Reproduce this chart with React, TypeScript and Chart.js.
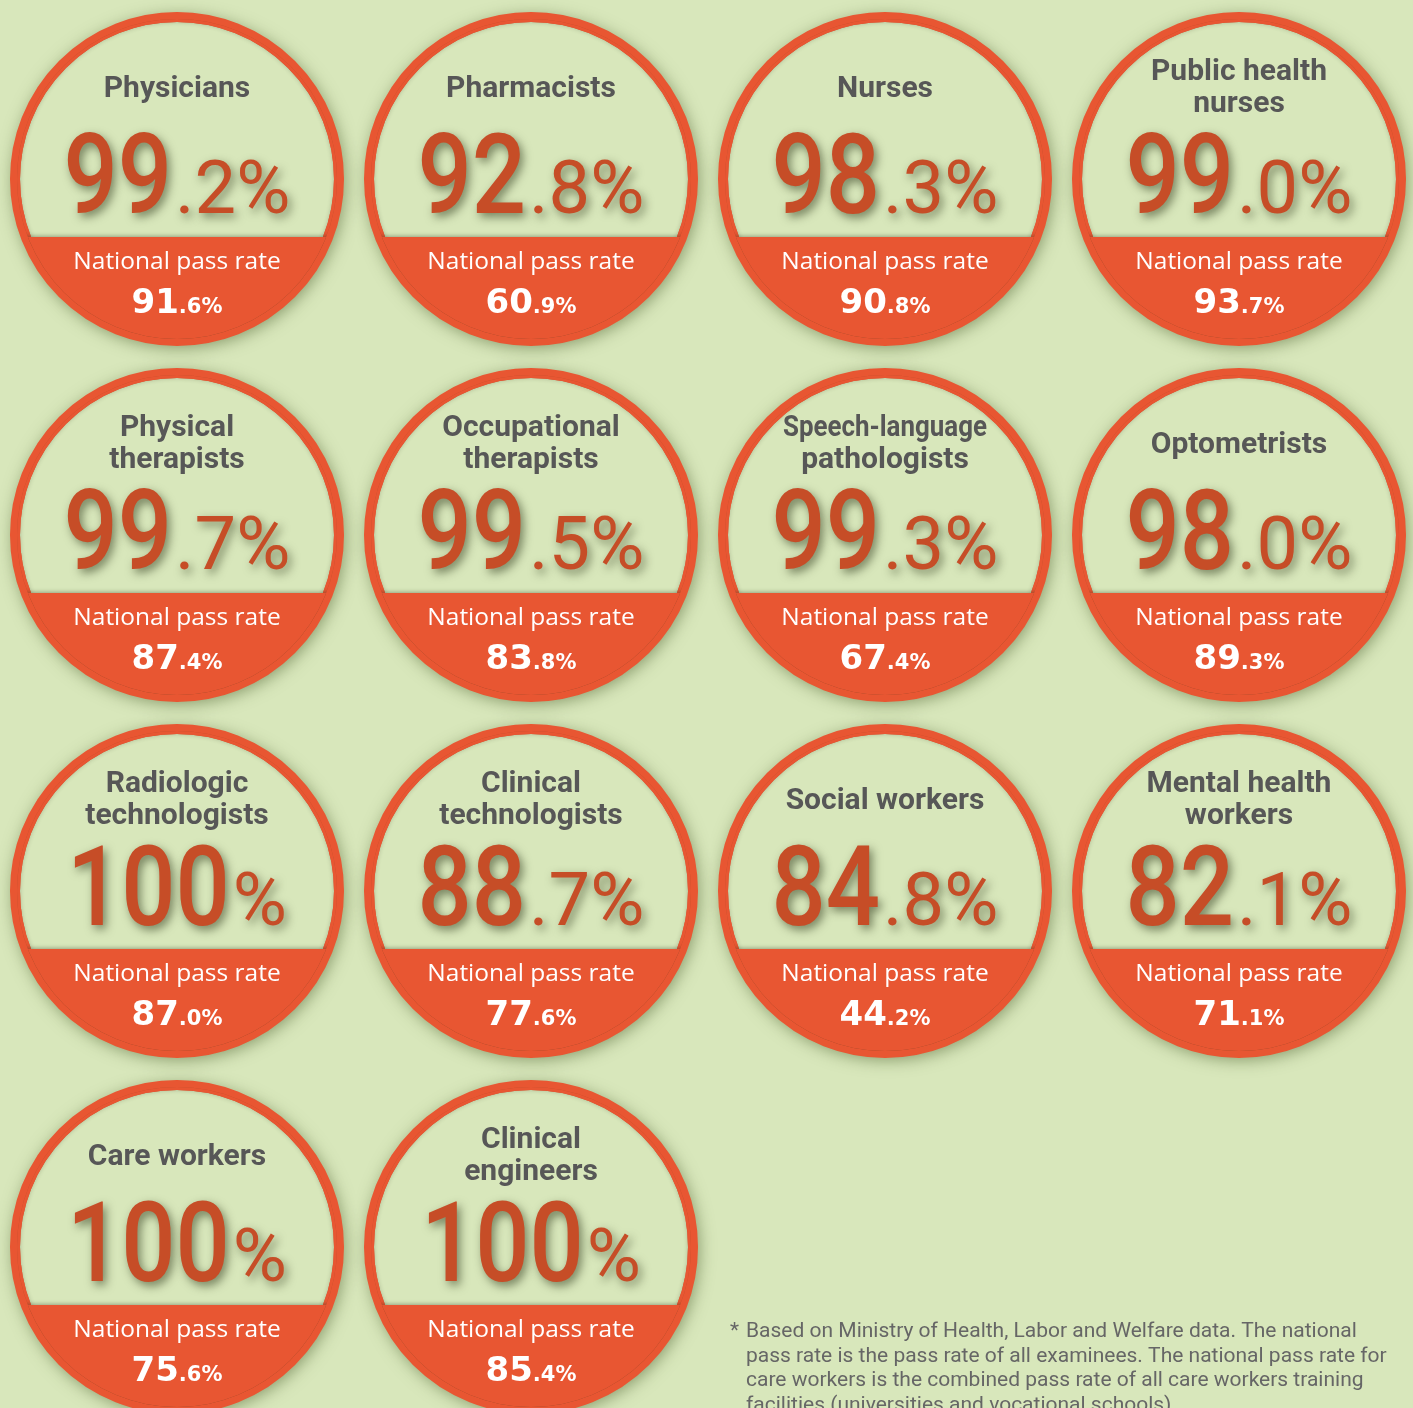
import React, { useEffect, useRef } from "react";
import { Chart, registerables } from "chart.js";

Chart.register(...registerables);

// ---------- data ----------
const professions = [
  "Physicians",
  "Pharmacists",
  "Nurses",
  "Public health\nnurses",
  "Physical\ntherapists",
  "Occupational\ntherapists",
  "Speech-language\npathologists",
  "Optometrists",
  "Radiologic\ntechnologists",
  "Clinical\ntechnologists",
  "Social workers",
  "Mental health\nworkers",
  "Care workers",
  "Clinical\nengineers",
];
const schoolPassRates = [99.2, 92.8, 98.3, 99.0, 99.7, 99.5, 99.3, 98.0, 100, 88.7, 84.8, 82.1, 100, 100];
const nationalPassRates = [91.6, 60.9, 90.8, 93.7, 87.4, 83.8, 67.4, 89.3, 87.0, 77.6, 44.2, 71.1, 75.6, 85.4];
const nationalLabel = "National pass rate";
const footnoteLines = [
  "Based on Ministry of Health, Labor and Welfare data. The national",
  "pass rate is the pass rate of all examinees. The national pass rate for",
  "care workers is the combined pass rate of all care workers training",
  "facilities (universities and vocational schools).",
];

// ---------- layout / style ----------
const W = 1413;
const H = 1408;
const COLS = 4;
const COL_STEP = 354;
const ROW_STEP = 356;
const FIRST_X = 177;
const FIRST_Y = 179;
const BG = "#d8e7bb";
const RED = "#e85632";
const DIGIT = "#c64d27";
const TITLE = "#575757";
const R_POINT = 162;
const R_BORDER = 10;
const R_IN = R_POINT - R_BORDER / 2;
const R_OUT = R_POINT + R_BORDER / 2;

function splitRate(v: number): [string, string] {
  if (v === 100) return ["100", "%"];
  const [a, b] = v.toFixed(1).split(".");
  return [a, "." + b + "%"];
}

function drawSplit(
  ctx: CanvasRenderingContext2D,
  parts: [string, string],
  cx: number,
  y: number,
  bigFont: string,
  smallFont: string,
  bigScale: number,
  gap: number
) {
  ctx.font = bigFont;
  const wb = ctx.measureText(parts[0]).width * bigScale;
  ctx.font = smallFont;
  const ws = ctx.measureText(parts[1]).width;
  const x0 = cx - (wb + gap + ws) / 2;
  ctx.textAlign = "left";
  ctx.textBaseline = "alphabetic";
  ctx.save();
  ctx.translate(x0, y);
  ctx.scale(bigScale, 1);
  ctx.font = bigFont;
  ctx.fillText(parts[0], 0, 0);
  ctx.restore();
  ctx.font = smallFont;
  ctx.fillText(parts[1], x0 + wb + gap, y);
}

const decorPlugin = {
  id: "decor",
  beforeDatasetsDraw(chart: any) {
    const ctx: CanvasRenderingContext2D = chart.ctx;
    const meta = chart.getDatasetMeta(0);
    meta.data.forEach((pt: any) => {
      ctx.save();
      ctx.shadowColor = "rgba(70,90,40,0.55)";
      ctx.shadowBlur = 16;
      ctx.shadowOffsetX = 2;
      ctx.shadowOffsetY = 3;
      ctx.fillStyle = RED;
      ctx.beginPath();
      ctx.arc(pt.x, pt.y, R_OUT - 1, 0, Math.PI * 2);
      ctx.fill();
      ctx.restore();
    });
  },
  afterDatasetsDraw(chart: any) {
    const ctx: CanvasRenderingContext2D = chart.ctx;
    const meta = chart.getDatasetMeta(0);
    meta.data.forEach((pt: any, i: number) => {
      const cx = pt.x;
      const cy = pt.y;
      // lower red band + soft inner shadow
      ctx.save();
      ctx.beginPath();
      ctx.arc(cx, cy, R_IN + 3, 0, Math.PI * 2);
      ctx.clip();
      ctx.save();
      ctx.shadowColor = "rgba(50,60,35,0.28)";
      ctx.shadowBlur = 4;
      ctx.lineWidth = 10;
      ctx.strokeStyle = RED;
      ctx.beginPath();
      ctx.arc(cx, cy, R_IN + 5, 0, Math.PI * 2);
      ctx.stroke();
      ctx.restore();
      ctx.shadowColor = "rgba(50,60,35,0.4)";
      ctx.shadowBlur = 4;
      ctx.shadowOffsetY = -1;
      ctx.fillStyle = RED;
      ctx.fillRect(cx - R_OUT, cy + 58, R_OUT * 2, R_OUT);
      ctx.restore();

      // title
      ctx.save();
      ctx.fillStyle = TITLE;
      ctx.font = "bold 30px Roboto";
      ctx.textAlign = "center";
      ctx.textBaseline = "alphabetic";
      const lines = professions[i].split("\n");
      if (lines.length === 1) {
        ctx.fillText(lines[0], cx, cy - 82, 206);
      } else {
        lines.forEach((l, k) => ctx.fillText(l, cx, cy - 99 + k * 32, 204));
      }
      ctx.restore();

      // school pass rate
      ctx.save();
      ctx.fillStyle = DIGIT;
      ctx.shadowColor = "rgba(50,60,30,0.6)";
      ctx.shadowBlur = 10;
      ctx.shadowOffsetX = 3;
      ctx.shadowOffsetY = 4;
      drawSplit(ctx, splitRate(schoolPassRates[i]), cx, cy + 34, "500 111px Roboto", "400 74px Roboto", 0.86, 3);
      ctx.restore();

      // national pass rate
      ctx.save();
      ctx.fillStyle = "#ffffff";
      ctx.font = "24.5px 'Open Sans'";
      ctx.textAlign = "center";
      ctx.textBaseline = "alphabetic";
      ctx.fillText(nationalLabel, cx, cy + 90);
      drawSplit(ctx, splitRate(nationalPassRates[i]), cx, cy + 134, "bold 34px 'DejaVu Sans'", "bold 21px 'DejaVu Sans'", 1, 0);
      ctx.restore();
    });

    // footnote
    ctx.save();
    ctx.fillStyle = "#666666";
    ctx.font = "21px Roboto";
    ctx.textAlign = "left";
    ctx.textBaseline = "alphabetic";
    ctx.fillText("*", 730, 1337);
    footnoteLines.forEach((l, k) => ctx.fillText(l, 746, 1337 + k * 24.5));
    ctx.restore();
  },
};

export default function App() {
  const ref = useRef<HTMLCanvasElement | null>(null);
  useEffect(() => {
    if (!ref.current) return;
    const points = professions.map((_, i) => ({ x: i % COLS, y: Math.floor(i / COLS) }));
    const chart = new Chart(ref.current, {
      type: "scatter",
      data: {
        datasets: [
          {
            data: points,
            pointRadius: R_POINT,
            pointHoverRadius: R_POINT,
            pointBorderWidth: R_BORDER,
            pointBackgroundColor: BG,
            pointBorderColor: RED,
            clip: false,
          } as any,
        ],
      },
      options: {
        responsive: false,
        animation: false,
        events: [],
        layout: { padding: 0, autoPadding: false },
        plugins: { legend: { display: false }, tooltip: { enabled: false } },
        scales: {
          x: { type: "linear", display: false, min: -FIRST_X / COL_STEP, max: (W - FIRST_X) / COL_STEP },
          y: { type: "linear", display: false, reverse: true, min: -FIRST_Y / ROW_STEP, max: (H - FIRST_Y) / ROW_STEP },
        },
      },
      plugins: [decorPlugin],
    });
    return () => chart.destroy();
  }, []);
  return (
    <div style={{ position: "absolute", left: 0, top: 0, width: W, height: H, background: BG, overflow: "hidden" }}>
      <canvas ref={ref} width={W} height={H} style={{ display: "block" }} />
    </div>
  );
}
